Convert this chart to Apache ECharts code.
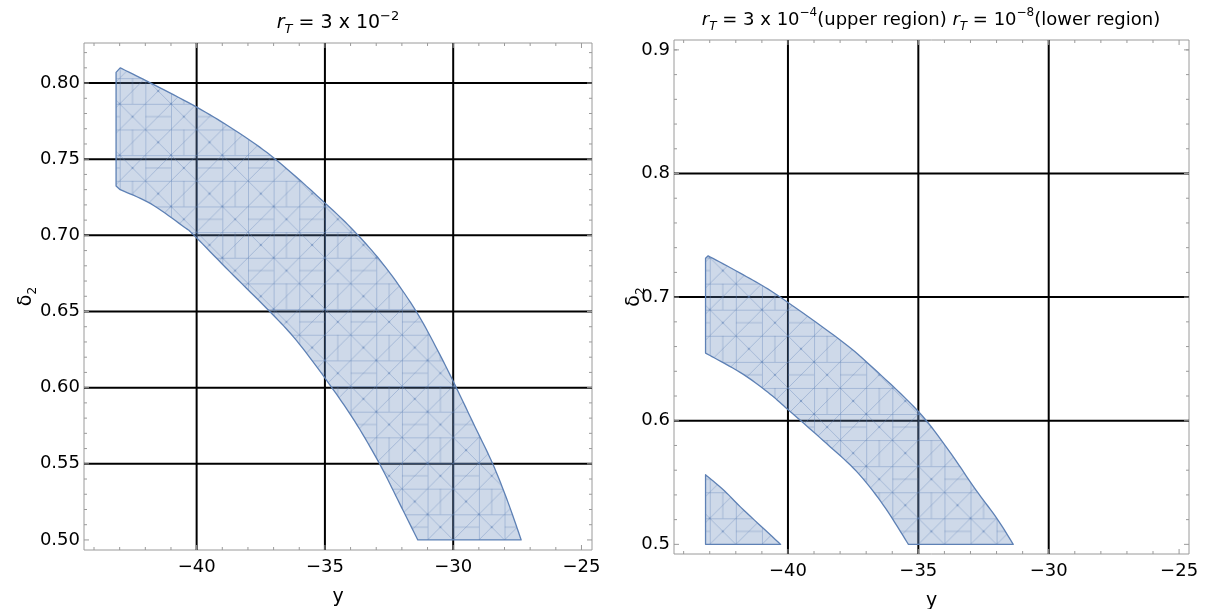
<!DOCTYPE html>
<html><head><meta charset="utf-8">
<script src="https://cdn.jsdelivr.net/npm/echarts@6/dist/echarts.min.js"></script>
<style>html,body{margin:0;padding:0;background:#fff}#c{width:1205px;height:609px}</style>
</head><body><div id="c"></div><script>
// ---------------- data ----------------
// Left panel (r_T = 3e-2): region boundary pieces [y, delta2]
const leftUpperCurve = [[-42.98,0.810],[-41.79,0.800],[-39.98,0.784],[-38.42,0.768],[-36.93,0.750],[-34.98,0.721],[-33.76,0.701],[-32.61,0.6785],[-31.44,0.650],[-30.53,0.622],[-29.88,0.600],[-29.17,0.575],[-28.46,0.550],[-27.87,0.525],[-27.35,0.500]];
const leftLowerCurve = [[-31.38,0.500],[-32.09,0.524],[-32.87,0.550],[-33.84,0.578],[-34.90,0.604],[-36.11,0.631],[-37.15,0.650],[-38.70,0.676],[-40.10,0.700],[-40.49,0.7055],[-41.79,0.7208],[-42.98,0.730]];
const leftSide = [[-43.14,0.7324],[-43.14,0.807]];
// Right panel: upper region (r_T = 3e-4)
const rightUpperCurve = [[-43.06,0.7334],[-41.71,0.718],[-40.43,0.7019],[-38.01,0.6655],[-36.73,0.6426],[-35.00,0.6075],[-33.85,0.5765],[-32.89,0.5469],[-31.99,0.521],[-31.36,0.500]];
const rightLowerCurve = [[-35.38,0.500],[-36.35,0.532],[-37.37,0.559],[-38.65,0.584],[-40.00,0.609],[-40.68,0.6215],[-41.71,0.6375],[-42.99,0.6528]];
const rightSide = [[-43.16,0.6547],[-43.16,0.7315]];
// Right panel: lower region (r_T = 1e-8)
const rightTriangleSide = [[-40.28,0.500],[-43.16,0.500],[-43.16,0.5563]];
const rightTriangleCurve = [[-43.16,0.5563],[-42.48,0.5442],[-41.71,0.528],[-40.28,0.500]];

// ticks and grid lines
const xTickLabels = [-40,-35,-30,-25];
const leftYTickLabels = [0.50,0.55,0.60,0.65,0.70,0.75,0.80];
const rightYTickLabels = [0.5,0.6,0.7,0.8,0.9];
const gridXValues = [-40,-35,-30];
const leftGridYValues = [0.55,0.60,0.65,0.70,0.75,0.80];
const rightGridYValues = [0.6,0.7,0.8];
const xMinorTicks = [-44,-43,-42,-41,-39,-38,-37,-36,-34,-33,-32,-31,-29,-28,-27,-26];
const leftYMinorTicks = [0.51,0.52,0.53,0.54,0.56,0.57,0.58,0.59,0.61,0.62,0.63,0.64,0.66,0.67,0.68,0.69,0.71,0.72,0.73,0.74,0.76,0.77,0.78,0.79,0.81,0.82];
const rightYMinorTicks = [0.52,0.54,0.56,0.58,0.62,0.64,0.66,0.68,0.72,0.74,0.76,0.78,0.82,0.84,0.86,0.88,0.90];

// axis ranges
const L_X = [-44.39, -24.59], L_Y = [0.4934, 0.8263];
const R_X = [-44.37, -24.62], R_Y = [0.4922, 0.908];

// ---------------- styling ----------------
const FONT = '"DejaVu Sans", "Liberation Sans", sans-serif';
const EDGE = 'rgb(94,129,181)';
const FRAME = '#9a9a9a';

const patternCache = {};
function meshPattern(cw, ch, ox, oy) {
  const W = 52, H = 52, c = 26;
  let cv = patternCache.cv;
  if (!cv) {
    cv = document.createElement('canvas');
    cv.width = W; cv.height = H;
    const g = cv.getContext('2d');
    g.fillStyle = 'rgba(94,129,181,0.30)';
    g.fillRect(0, 0, W, H);
    g.strokeStyle = 'rgba(94,129,181,0.38)';
    g.lineWidth = 1;
    g.beginPath();
    for (let i = 0; i <= 2; i++) {
      g.moveTo(i * c + 0.5, 0); g.lineTo(i * c + 0.5, H);
      g.moveTo(0, i * c + 0.5); g.lineTo(W, i * c + 0.5);
    }
    for (let i = 0; i < 2; i++) for (let j = 0; j < 2; j++) {
      g.moveTo(i * c, (j + 1) * c); g.lineTo((i + 1) * c, j * c);
    }
    g.moveTo(0, 0); g.lineTo(c, c);
    g.moveTo(c, c); g.lineTo(2 * c, 2 * c);
    g.moveTo(c + c / 2, 0); g.lineTo(c + c / 2, c);
    g.moveTo(0, c + c / 2); g.lineTo(c, c + c / 2);
    g.stroke();
    g.fillStyle = 'rgba(94,129,181,0.45)';
    [[c / 2, c / 2], [c + c / 2, c + c / 2], [c, c], [0, 0]].forEach(p => { g.beginPath(); g.arc(p[0], p[1], 1.3, 0, Math.PI * 2); g.fill(); });
    patternCache.cv = cv;
  }
  return { image: cv, repeat: 'repeat', x: ox, y: oy, scaleX: cw / c, scaleY: ch / c };
}

// Catmull-Rom smoothing of a boundary piece in pixel space (rendering only)
function smoothPixels(p) {
  if (p.length < 3) return p.slice();
  const out = [];
  for (let i = 0; i < p.length - 1; i++) {
    const p0 = p[i - 1] || p[i], p1 = p[i], p2 = p[i + 1], p3 = p[i + 2] || p[i + 1];
    for (let s = 0; s < 10; s++) {
      const t = s / 10, t2 = t * t, t3 = t2 * t;
      const f = k => 0.5 * ((2 * p1[k]) + (-p0[k] + p2[k]) * t + (2 * p0[k] - 5 * p1[k] + 4 * p2[k] - p3[k]) * t2 + (-p0[k] + 3 * p1[k] - 3 * p2[k] + p3[k]) * t3);
      out.push([f(0), f(1)]);
    }
  }
  out.push(p[p.length - 1]);
  return out;
}

function regionRender(pieces) {
  return function (params, api) {
    let pts = [];
    pieces.forEach(pc => {
      const px = pc.pts.map(d => api.coord(d));
      pts = pts.concat(pc.curved ? smoothPixels(px) : px);
    });
    const o = api.coord([-40, 0.5]);
    const cw = api.size([1, 0])[0];
    return {
      type: 'polygon',
      shape: { points: pts },
      style: { fill: meshPattern(cw, cw, o[0], o[1]), stroke: EDGE, lineWidth: 1.3, lineJoin: 'round' }
    };
  };
}

function frameRender(xr, yr, gx, gy, majX, majY, minX, minY) {
  return function (params, api) {
    const ch = [];
    const ln = (a, b, st) => ch.push({ type: 'line', shape: { x1: a[0], y1: a[1], x2: b[0], y2: b[1] }, style: st });
    const gs = { stroke: '#000', lineWidth: 2 };
    gx.forEach(v => ln(api.coord([v, yr[0]]), api.coord([v, yr[1]]), gs));
    gy.forEach(v => ln(api.coord([xr[0], v]), api.coord([xr[1], v]), gs));
    const ts = { stroke: FRAME, lineWidth: 1 };
    const tx = (v, len) => {
      const b = api.coord([v, yr[0]]), t = api.coord([v, yr[1]]);
      ln(b, [b[0], b[1] - len], ts); ln(t, [t[0], t[1] + len], ts);
    };
    const ty = (v, len) => {
      const l = api.coord([xr[0], v]), r = api.coord([xr[1], v]);
      ln(l, [l[0] + len, l[1]], ts); ln(r, [r[0] - len, r[1]], ts);
    };
    majX.forEach(v => tx(v, 5)); minX.forEach(v => tx(v, 3));
    majY.forEach(v => ty(v, 5)); minY.forEach(v => ty(v, 3));
    return { type: 'group', children: ch };
  };
}

const minus = v => (v < 0 ? '\u2212' + Math.abs(v) : String(v));
const labelStyle = { fontFamily: FONT, fontSize: 18, color: '#000' };
const deltaName = {
  name: '{d|\u03b4}{s|2}', nameLocation: 'middle', nameMoveOverlap: false,
  nameTextStyle: { fontFamily: FONT, color: '#000', rich: {
    d: { fontFamily: FONT, fontSize: 19, color: '#000', lineHeight: 26, verticalAlign: 'middle' },
    s: { fontFamily: FONT, fontSize: 12, color: '#000', lineHeight: 26, verticalAlign: 'bottom' } } }
};

function xAxisFor(i, r) {
  return { gridIndex: i, type: 'value', min: r[0], max: r[1],
    axisLine: { show: false }, axisTick: { show: false }, splitLine: { show: false },
    axisLabel: Object.assign({ customValues: xTickLabels, formatter: minus, margin: 8 }, labelStyle),
    name: 'y', nameLocation: 'middle', nameGap: 38,
    nameTextStyle: { fontFamily: FONT, fontSize: 19, color: '#000' } };
}
function yAxisFor(i, r, vals, dec, gap) {
  return Object.assign({ gridIndex: i, type: 'value', min: r[0], max: r[1],
    axisLine: { show: false }, axisTick: { show: false }, splitLine: { show: false },
    axisLabel: Object.assign({ customValues: vals, formatter: v => v.toFixed(dec), margin: 4 }, labelStyle),
    nameGap: gap }, deltaName);
}

const titleRich = {
  i: { fontFamily: FONT, fontSize: 19, fontStyle: 'italic', color: '#000', lineHeight: 26, verticalAlign: 'middle' },
  n: { fontFamily: FONT, fontSize: 19, color: '#000', lineHeight: 26, verticalAlign: 'middle' },
  s: { fontFamily: FONT, fontSize: 13, fontStyle: 'italic', color: '#000', lineHeight: 26, verticalAlign: 'bottom' },
  p: { fontFamily: FONT, fontSize: 13, color: '#000', lineHeight: 26, verticalAlign: 'top' }
};
const rightTitleRich = {
  i: Object.assign({}, titleRich.i, { fontSize: 18 }),
  n: Object.assign({}, titleRich.n, { fontSize: 18 }),
  s: Object.assign({}, titleRich.s, { fontSize: 12 }),
  p: Object.assign({}, titleRich.p, { fontSize: 12 })
};
function titleText(x, y, text, rich) {
  return { type: 'text', x: x, y: y, silent: true,
    style: { text: text, rich: rich, align: 'center', verticalAlign: 'middle', textAlign: 'center', textVerticalAlign: 'middle', font: '18px ' + FONT, fill: '#000' } };
}

const chart = echarts.init(document.getElementById('c'), null, { renderer: 'canvas' });
chart.setOption({
  animation: false,
  backgroundColor: '#fff',
  grid: [
    { left: 84, right: 613, top: 43, bottom: 59, outerBoundsMode: 'none', containLabel: false, show: true, borderColor: FRAME, borderWidth: 1, backgroundColor: 'transparent' },
    { left: 674, right: 16, top: 40, bottom: 55, outerBoundsMode: 'none', containLabel: false, show: true, borderColor: FRAME, borderWidth: 1, backgroundColor: 'transparent' }
  ],
  xAxis: [xAxisFor(0, L_X), xAxisFor(1, R_X)],
  yAxis: [yAxisFor(0, L_Y, leftYTickLabels, 2, 45), yAxisFor(1, R_Y, rightYTickLabels, 1, 27)],
  graphic: [
    titleText(338, 23, '{i|r}{s|T}{n| = 3 x 10}{p|\u22122}', titleRich),
    titleText(931, 20, '{i|r}{s|T}{n| = 3 x 10}{p|\u22124}{n|(upper region) }{i|r}{s|T}{n| = 10}{p|\u22128}{n|(lower region)}', rightTitleRich)
  ],
  series: [
    { type: 'custom', xAxisIndex: 0, yAxisIndex: 0, silent: true, z: 1, data: [[L_X[0], L_Y[0]]],
      renderItem: frameRender(L_X, L_Y, gridXValues, leftGridYValues, xTickLabels, leftYTickLabels, xMinorTicks, leftYMinorTicks) },
    { type: 'custom', xAxisIndex: 1, yAxisIndex: 1, silent: true, z: 1, data: [[R_X[0], R_Y[0]]],
      renderItem: frameRender(R_X, R_Y, gridXValues, rightGridYValues, xTickLabels, rightYTickLabels, xMinorTicks, rightYMinorTicks) },
    { type: 'custom', xAxisIndex: 0, yAxisIndex: 0, silent: true, z: 3, data: [[0, 0]],
      renderItem: regionRender([{ pts: leftUpperCurve, curved: true }, { pts: leftLowerCurve, curved: true }, { pts: leftSide, curved: false }]) },
    { type: 'custom', xAxisIndex: 1, yAxisIndex: 1, silent: true, z: 3, data: [[0, 0]],
      renderItem: regionRender([{ pts: rightUpperCurve, curved: true }, { pts: rightLowerCurve, curved: true }, { pts: rightSide, curved: false }]) },
    { type: 'custom', xAxisIndex: 1, yAxisIndex: 1, silent: true, z: 3, data: [[0, 0]],
      renderItem: regionRender([{ pts: rightTriangleSide, curved: false }, { pts: rightTriangleCurve, curved: true }]) }
  ]
});
</script></body></html>
